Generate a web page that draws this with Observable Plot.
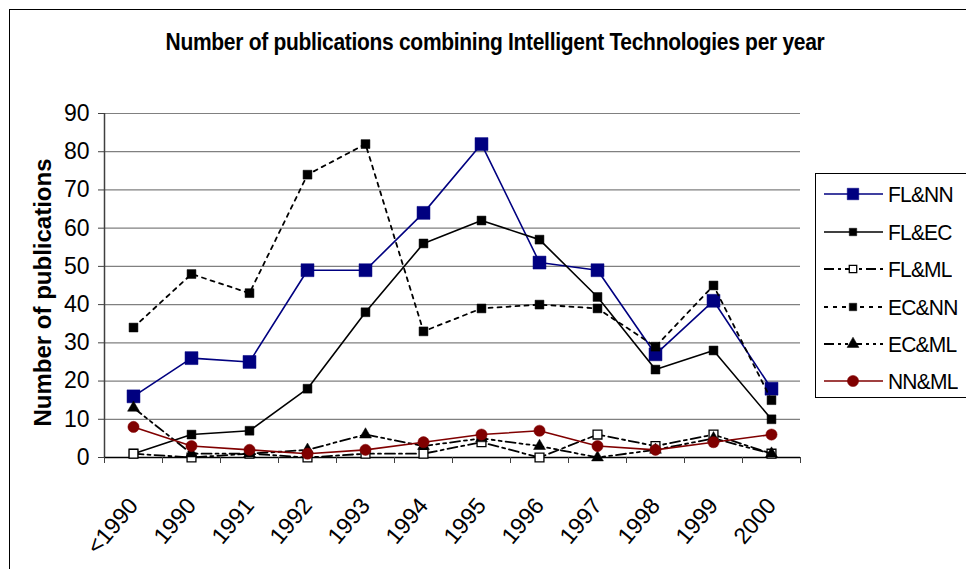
<!DOCTYPE html>
<html>
<head>
<meta charset="utf-8">
<script src="https://cdn.jsdelivr.net/npm/d3@7"></script>
<script src="https://cdn.jsdelivr.net/npm/@observablehq/plot@0.6"></script>
<style>
  html, body { margin: 0; padding: 0; background: #fff; overflow: hidden; }
  #wrap { position: relative; width: 966px; height: 569px; font-family: "Liberation Sans", Arial, sans-serif; }
  #frame { position: absolute; left: 9px; top: 9px; width: 1000px; height: 600px; border: 1px solid #000; box-sizing: border-box; }
  #chart { position: absolute; left: 0; top: 0; }
  #title { position: absolute; left: 0; top: 30px; width: 990px; text-align: center; font-weight: bold; font-size: 21px; line-height: 24px; color: #000; letter-spacing: -0.3px; transform: scaleY(1.12); }
  #legend { position: absolute; left: 815px; top: 173px; width: 170px; height: 225px; border: 1px solid #000; box-sizing: border-box; background: #fff; }
  .row { position: absolute; left: 0; height: 24px; width: 170px; }
  .row svg { position: absolute; left: 7px; top: 2px; }
  .row span { position: absolute; left: 72px; top: 0; font-size: 21px; line-height: 24px; color: #000; letter-spacing: -0.8px; transform: scaleY(1.08); transform-origin: 0 50%; }
</style>
</head>
<body>
<div id="wrap">
  <div id="frame"></div>
  <div id="chart"></div>
  <div id="title">Number of publications combining Intelligent Technologies per year</div>
  <div id="legend"></div>
</div>
<script>
// ---- data ----
const years = ["<1990","1990","1991","1992","1993","1994","1995","1996","1997","1998","1999","2000"];
const seriesNames = ["FL&NN","FL&EC","FL&ML","EC&NN","EC&ML","NN&ML"];
const flnn = [16,26,25,49,49,64,82,51,49,27,41,18];
const flec = [1,6,7,18,38,56,62,57,42,23,28,10];
const flml = [1,0,1,0,1,1,4,0,6,3,6,1];
const ecnn = [34,48,43,74,82,33,39,40,39,29,45,15];
const ecml = [13,1,1,2,6,3,5,3,0,2,5,1];
const nnml = [8,3,2,1,2,4,6,7,3,2,4,6];
const yTicks = [0,10,20,30,40,50,60,70,80,90];

// ---- styles ----
const styles = {
  "FL&NN": {stroke:"#000080", width:1.6, dash:null, symbol:"square", fill:"#000080", dotStroke:"#000080", r:7.3},
  "FL&EC": {stroke:"#000000", width:1.6, dash:null, symbol:"square", fill:"#000000", dotStroke:"#000000", r:5},
  "FL&ML": {stroke:"#000000", width:1.8, dash:"10,4,3,4", symbol:"square", fill:"#ffffff", dotStroke:"#000000", r:5},
  "EC&NN": {stroke:"#000000", width:1.8, dash:"4,5", symbol:"square", fill:"#000000", dotStroke:"#000000", r:5},
  "EC&ML": {stroke:"#000000", width:1.8, dash:"10,4,3,4,3,4", symbol:"triangle", fill:"#000000", dotStroke:"#000000", r:4.4},
  "NN&ML": {stroke:"#800000", width:1.6, dash:null, symbol:"circle", fill:"#800000", dotStroke:"#800000", r:5.6}
};
const values = {"FL&NN":flnn,"FL&EC":flec,"FL&ML":flml,"EC&NN":ecnn,"EC&ML":ecml,"NN&ML":nnml};

const seriesMarks = [];
for (const name of seriesNames) {
  const s = styles[name];
  const data = values[name].map((v, i) => ({i, v}));
  seriesMarks.push(Plot.line(data, {x:"i", y:"v", stroke:s.stroke, strokeWidth:s.width, strokeDasharray:s.dash || undefined}));
  seriesMarks.push(Plot.dot(data, {x:"i", y:"v", symbol:s.symbol, r:s.r, fill:s.fill, stroke:s.dotStroke, strokeWidth: name === "FL&ML" ? 1.3 : 0.5}));
}

const chart = Plot.plot({
  width: 966, height: 569,
  marginLeft: 104, marginRight: 166, marginTop: 113, marginBottom: 112,
  style: {fontFamily: "'Liberation Sans', Arial, sans-serif", color: "#000", background: "transparent", overflow: "visible"},
  x: {type: "linear", domain: [-0.5, 11.5]},
  y: {domain: [0, 90]},
  marks: [
    Plot.gridY(yTicks.filter(d => d > 0), {stroke: "#808080", strokeOpacity: 1, strokeWidth: 1.2}),
    Plot.ruleX([-0.5], {stroke: "#404040", strokeWidth: 1.5}),
    Plot.ruleY([0], {stroke: "#000", strokeWidth: 1.3}),
    Plot.axisY(yTicks, {tickSize: 6, tickPadding: 9, fontSize: 23, label: null, stroke: "#404040"}),
    Plot.axisX(d3.range(-0.5, 12, 1), {tickSize: 6, tickFormat: () => "", label: null, stroke: "#404040"}),
    Plot.axisX(d3.range(12), {tickSize: 0, tickPadding: 0, tickFormat: i => years[i], tickRotate: -50, fontSize: 23, dx: 0, dy: 44, label: null}),
    ...seriesMarks,
    Plot.text(["Number of publications"], {frameAnchor: "left", textAnchor: "middle", rotate: -90, dx: -61, dy: 7, fontSize: 24, fontWeight: "bold", fill: "#000"})
  ]
});
document.getElementById("chart").appendChild(chart);

// ---- legend ----
const legend = document.getElementById("legend");
const rowTops = [8, 46, 83, 121, 158, 195];
seriesNames.forEach((name, k) => {
  const s = styles[name];
  const row = document.createElement("div");
  row.className = "row";
  row.style.top = rowTops[k] + "px";
  const svg = d3.create("svg").attr("width", 62).attr("height", 20);
  svg.append("line").attr("x1", 1).attr("x2", 60).attr("y1", 10).attr("y2", 10)
    .attr("stroke", s.stroke).attr("stroke-width", s.width).attr("stroke-dasharray", s.dash);
  const sym = {square: d3.symbolSquare, circle: d3.symbolCircle, triangle: d3.symbolTriangle}[s.symbol];
  const rr = name === "FL&NN" ? 6.5 : (s.symbol === "circle" ? 5.6 : (s.symbol === "triangle" ? 4.4 : 4.2));
  svg.append("path").attr("transform", "translate(30,10)")
    .attr("d", d3.symbol(sym, Math.PI * rr * rr)())
    .attr("fill", s.fill).attr("stroke", s.dotStroke).attr("stroke-width", name === "FL&ML" ? 1.3 : 0.5);
  row.appendChild(svg.node());
  const span = document.createElement("span");
  span.textContent = name;
  row.appendChild(span);
  legend.appendChild(row);
});
</script>
</body>
</html>
